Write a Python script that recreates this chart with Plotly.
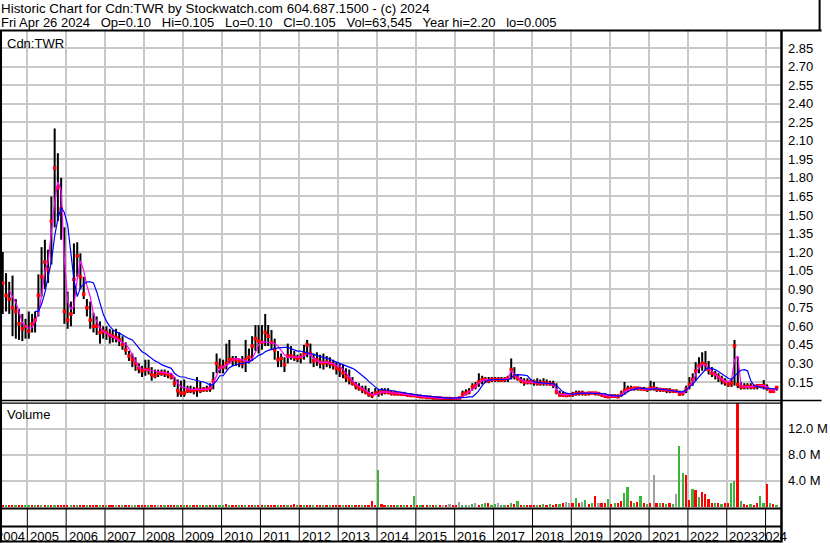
import pandas as pd
import plotly.graph_objects as go

# ---------------- data: monthly bars, May 2004 .. Apr 2024 ----------------
first_month = "2004-05-01"

high = [
    1.20, 1.03, 0.96, 1.01, 0.82, 0.74, 0.70, 0.66,                              # 2004 May-Dec
    0.72, 0.70, 0.72, 1.02, 1.24, 1.30, 1.22, 1.65, 2.20, 2.00, 1.80, 1.40,      # 2005
    0.88, 0.80, 1.27, 1.28, 1.19, 1.00, 0.82, 0.80, 0.71, 0.68, 0.64, 0.60,      # 2006
    0.60, 0.58, 0.57, 0.58, 0.55, 0.52, 0.47, 0.40, 0.38, 0.35, 0.30, 0.28,      # 2007
    0.33, 0.33, 0.27, 0.25, 0.25, 0.25, 0.25, 0.24, 0.22, 0.19, 0.17, 0.16,      # 2008
    0.17, 0.12, 0.12, 0.11, 0.19, 0.15, 0.11, 0.12, 0.14, 0.23, 0.38, 0.34,      # 2009
    0.33, 0.46, 0.49, 0.36, 0.36, 0.34, 0.36, 0.49, 0.42, 0.52, 0.61, 0.61,      # 2010
    0.61, 0.70, 0.61, 0.57, 0.50, 0.40, 0.38, 0.35, 0.46, 0.44, 0.40, 0.37,      # 2011
    0.38, 0.45, 0.49, 0.46, 0.38, 0.39, 0.37, 0.38, 0.36, 0.35, 0.33, 0.31,      # 2012
    0.30, 0.29, 0.26, 0.25, 0.19, 0.15, 0.14, 0.12, 0.12, 0.10, 0.07, 0.10,      # 2013
    0.09, 0.10, 0.10, 0.10, 0.08, 0.08, 0.07, 0.07, 0.07, 0.06, 0.06, 0.05,      # 2014
    0.05, 0.05, 0.04, 0.04, 0.04, 0.035, 0.035, 0.03, 0.03, 0.03, 0.03, 0.025,   # 2015
    0.02, 0.03, 0.08, 0.09, 0.10, 0.14, 0.15, 0.22, 0.20, 0.19, 0.19, 0.19,      # 2016
    0.19, 0.19, 0.19, 0.19, 0.20, 0.34, 0.27, 0.21, 0.19, 0.18, 0.18, 0.17,      # 2017
    0.17, 0.18, 0.17, 0.18, 0.17, 0.16, 0.16, 0.14, 0.08, 0.07, 0.06, 0.06,      # 2018
    0.07, 0.08, 0.08, 0.08, 0.07, 0.07, 0.07, 0.07, 0.07, 0.06, 0.05, 0.05,      # 2019
    0.05, 0.05, 0.05, 0.08, 0.15, 0.12, 0.12, 0.11, 0.11, 0.11, 0.11, 0.10,      # 2020
    0.16, 0.15, 0.11, 0.10, 0.10, 0.10, 0.10, 0.09, 0.09, 0.08, 0.08, 0.12,      # 2021
    0.19, 0.22, 0.31, 0.35, 0.39, 0.40, 0.32, 0.27, 0.24, 0.22, 0.20, 0.18,      # 2022
    0.16, 0.17, 0.49, 0.35, 0.15, 0.14, 0.14, 0.14, 0.13, 0.13, 0.13, 0.165,     # 2023
    0.13, 0.10, 0.09, 0.11,                                                      # 2024 Jan-Apr
]

low = [
    0.70, 0.72, 0.70, 0.52, 0.50, 0.49, 0.48, 0.50,
    0.50, 0.55, 0.55, 0.68, 0.84, 0.90, 0.95, 1.10, 1.40, 1.45, 1.30, 0.62,
    0.58, 0.60, 0.70, 1.00, 0.90, 0.82, 0.68, 0.58, 0.55, 0.53, 0.46, 0.50,
    0.49, 0.46, 0.47, 0.47, 0.44, 0.41, 0.37, 0.32, 0.27, 0.24, 0.22, 0.19,
    0.20, 0.21, 0.16, 0.18, 0.19, 0.20, 0.19, 0.18, 0.17, 0.11, 0.03, 0.03,
    0.03, 0.06, 0.06, 0.05, 0.03, 0.06, 0.07, 0.07, 0.07, 0.09, 0.22, 0.22,
    0.22, 0.25, 0.30, 0.28, 0.28, 0.27, 0.26, 0.23, 0.30, 0.32, 0.40, 0.38,
    0.41, 0.44, 0.44, 0.41, 0.33, 0.27, 0.27, 0.23, 0.30, 0.33, 0.32, 0.31,
    0.30, 0.33, 0.35, 0.30, 0.27, 0.28, 0.26, 0.25, 0.27, 0.26, 0.25, 0.21,
    0.19, 0.18, 0.15, 0.13, 0.12, 0.09, 0.08, 0.06, 0.05, 0.03, 0.02, 0.05,
    0.03, 0.04, 0.05, 0.05, 0.04, 0.04, 0.04, 0.04, 0.04, 0.03, 0.03, 0.03,
    0.025, 0.02, 0.02, 0.02, 0.015, 0.015, 0.015, 0.01, 0.01, 0.01, 0.01, 0.005,
    0.005, 0.01, 0.02, 0.04, 0.05, 0.08, 0.09, 0.11, 0.13, 0.14, 0.14, 0.15,
    0.15, 0.15, 0.15, 0.15, 0.15, 0.17, 0.17, 0.16, 0.14, 0.12, 0.13, 0.13,
    0.12, 0.12, 0.12, 0.12, 0.12, 0.12, 0.10, 0.05, 0.03, 0.03, 0.03, 0.03,
    0.03, 0.04, 0.04, 0.04, 0.04, 0.04, 0.05, 0.04, 0.04, 0.03, 0.02, 0.02,
    0.02, 0.02, 0.02, 0.03, 0.05, 0.07, 0.08, 0.08, 0.08, 0.08, 0.08, 0.07,
    0.08, 0.08, 0.07, 0.07, 0.07, 0.06, 0.06, 0.06, 0.06, 0.04, 0.04, 0.06,
    0.09, 0.12, 0.16, 0.22, 0.24, 0.24, 0.21, 0.19, 0.17, 0.15, 0.13, 0.12,
    0.11, 0.11, 0.12, 0.10, 0.09, 0.09, 0.09, 0.09, 0.09, 0.09, 0.10, 0.09,
    0.08, 0.06, 0.06, 0.08,
]

close = [
    0.95, 0.85, 0.82, 0.75, 0.72, 0.62, 0.58, 0.60,
    0.56, 0.62, 0.65, 0.85, 1.00, 1.12, 1.06, 1.45, 1.88, 1.72, 1.55, 0.72,
    0.65, 0.70, 0.98, 1.17, 1.00, 0.86, 0.75, 0.65, 0.60, 0.60, 0.55, 0.56,
    0.55, 0.53, 0.52, 0.51, 0.49, 0.45, 0.41, 0.36, 0.33, 0.30, 0.26, 0.24,
    0.25, 0.25, 0.21, 0.20, 0.22, 0.22, 0.22, 0.21, 0.19, 0.14, 0.08, 0.06,
    0.06, 0.08, 0.08, 0.08, 0.09, 0.08, 0.09, 0.09, 0.10, 0.16, 0.30, 0.27,
    0.27, 0.30, 0.33, 0.33, 0.33, 0.32, 0.30, 0.33, 0.35, 0.44, 0.50, 0.48,
    0.47, 0.55, 0.52, 0.47, 0.41, 0.33, 0.34, 0.29, 0.36, 0.36, 0.35, 0.34,
    0.35, 0.38, 0.45, 0.38, 0.32, 0.33, 0.31, 0.30, 0.31, 0.30, 0.29, 0.26,
    0.25, 0.22, 0.19, 0.17, 0.14, 0.12, 0.10, 0.09, 0.07, 0.05, 0.04, 0.06,
    0.06, 0.07, 0.07, 0.065, 0.06, 0.055, 0.055, 0.05, 0.05, 0.045, 0.04, 0.04,
    0.035, 0.03, 0.03, 0.025, 0.025, 0.02, 0.02, 0.02, 0.015, 0.015, 0.015, 0.01,
    0.01, 0.02, 0.05, 0.06, 0.07, 0.11, 0.12, 0.15, 0.17, 0.17, 0.16, 0.17,
    0.17, 0.17, 0.165, 0.17, 0.18, 0.25, 0.20, 0.18, 0.16, 0.15, 0.15, 0.15,
    0.15, 0.14, 0.14, 0.145, 0.14, 0.135, 0.13, 0.07, 0.045, 0.045, 0.04, 0.045,
    0.05, 0.055, 0.06, 0.06, 0.055, 0.06, 0.06, 0.06, 0.055, 0.045, 0.035, 0.03,
    0.035, 0.035, 0.03, 0.05, 0.08, 0.09, 0.095, 0.10, 0.10, 0.095, 0.09, 0.09,
    0.10, 0.10, 0.09, 0.09, 0.085, 0.085, 0.08, 0.075, 0.075, 0.05, 0.06, 0.09,
    0.13, 0.17, 0.24, 0.28, 0.30, 0.29, 0.25, 0.22, 0.21, 0.19, 0.17, 0.15,
    0.13, 0.14, 0.44, 0.13, 0.11, 0.11, 0.115, 0.11, 0.11, 0.12, 0.12, 0.12,
    0.10, 0.075, 0.075, 0.105,
]

ma_short = [  # magenta moving average
    None, None, 0.89, 0.84, 0.79, 0.72, 0.63, 0.60,
    0.585, 0.59, 0.64, 0.70, 0.85, 1.05, 1.12, 1.35, 1.60, 1.77, 1.70, 1.15,
    0.80, 0.74, 0.76, 0.98, 1.13, 1.05, 0.93, 0.84, 0.70, 0.64, 0.59, 0.56,
    0.545, 0.53, 0.515, 0.50, 0.49, 0.475, 0.455, 0.42, 0.37, 0.32, 0.27, 0.255,
    0.25, 0.245, 0.24, 0.235, 0.23, 0.225, 0.225, 0.22, 0.22, 0.19, 0.14, 0.11,
    0.105, 0.095, 0.09, 0.09, 0.09, 0.085, 0.085, 0.09, 0.10, 0.14, 0.20, 0.26,
    0.27, 0.285, 0.30, 0.33, 0.34, 0.335, 0.33, 0.32, 0.31, 0.34, 0.39, 0.45,
    0.475, 0.475, 0.47, 0.465, 0.46, 0.44, 0.41, 0.37, 0.35, 0.35, 0.35, 0.355,
    0.35, 0.36, 0.38, 0.37, 0.34, 0.32, 0.31, 0.31, 0.31, 0.30, 0.30, 0.28,
    0.28, 0.25, 0.22, 0.19, 0.16, 0.13, 0.115, 0.095, 0.08, 0.065, 0.05, 0.045,
    0.06, 0.07, 0.07, 0.07, 0.065, 0.06, 0.06, 0.055, 0.05, 0.05, 0.045, 0.04,
    0.04, 0.035, 0.03, 0.03, 0.025, 0.025, 0.02, 0.02, 0.02, 0.015, 0.015, 0.015,
    0.015, 0.015, 0.03, 0.05, 0.065, 0.09, 0.11, 0.14, 0.16, 0.17, 0.165, 0.165,
    0.17, 0.17, 0.17, 0.17, 0.175, 0.24, 0.21, 0.185, 0.17, 0.155, 0.15, 0.15,
    0.15, 0.145, 0.14, 0.14, 0.14, 0.135, 0.13, 0.09, 0.05, 0.045, 0.045, 0.045,
    0.05, 0.055, 0.06, 0.06, 0.06, 0.06, 0.06, 0.06, 0.06, 0.05, 0.04, 0.035,
    0.04, 0.035, 0.035, 0.045, 0.07, 0.085, 0.09, 0.095, 0.10, 0.095, 0.09, 0.09,
    0.095, 0.10, 0.095, 0.09, 0.085, 0.085, 0.08, 0.08, 0.075, 0.065, 0.06, 0.08,
    0.11, 0.15, 0.21, 0.27, 0.29, 0.29, 0.26, 0.24, 0.21, 0.19, 0.175, 0.155,
    0.15, 0.17, 0.33, 0.36, 0.12, 0.11, 0.11, 0.11, 0.11, 0.115, 0.12, 0.12,
    0.11, 0.09, 0.08, 0.095,
]

ma_long = [  # blue moving average
    None, None, None, None, None, None, None, None,
    None, None, 0.72, 0.72, 0.78, 0.87, 1.00, 1.12, 1.33, 1.47, 1.56, 1.52,
    1.42, 1.19, 0.98, 0.84, 0.91, 0.94, 0.96, 0.96, 0.95, 0.88, 0.78, 0.70,
    0.64, 0.60, 0.575, 0.555, 0.545, 0.53, 0.51, 0.50, 0.49, 0.46, 0.42, 0.395,
    0.38, 0.36, 0.34, 0.32, 0.31, 0.29, 0.28, 0.27, 0.26, 0.22, 0.20, 0.19,
    0.19, 0.18, 0.175, 0.17, 0.165, 0.16, 0.15, 0.14, 0.125, 0.13, 0.16, 0.20,
    0.20, 0.235, 0.265, 0.28, 0.29, 0.295, 0.30, 0.305, 0.31, 0.325, 0.345, 0.365,
    0.375, 0.395, 0.405, 0.415, 0.42, 0.425, 0.43, 0.43, 0.43, 0.42, 0.41, 0.40,
    0.40, 0.39, 0.385, 0.38, 0.375, 0.365, 0.355, 0.35, 0.345, 0.335, 0.32, 0.31,
    0.305, 0.29, 0.28, 0.27, 0.26, 0.245, 0.225, 0.20, 0.18, 0.155, 0.13, 0.11,
    0.09, 0.085, 0.085, 0.085, 0.08, 0.075, 0.07, 0.07, 0.065, 0.06, 0.055, 0.05,
    0.045, 0.04, 0.04, 0.035, 0.035, 0.03, 0.03, 0.025, 0.025, 0.02, 0.02, 0.02,
    0.02, 0.02, 0.02, 0.025, 0.03, 0.03, 0.05, 0.08, 0.12, 0.15, 0.165, 0.17,
    0.17, 0.17, 0.17, 0.17, 0.17, 0.18, 0.205, 0.21, 0.21, 0.205, 0.20, 0.17,
    0.15, 0.145, 0.14, 0.14, 0.14, 0.14, 0.135, 0.12, 0.09, 0.07, 0.06, 0.055,
    0.05, 0.055, 0.06, 0.06, 0.06, 0.06, 0.06, 0.06, 0.06, 0.06, 0.055, 0.045,
    0.04, 0.04, 0.035, 0.04, 0.05, 0.07, 0.085, 0.09, 0.10, 0.10, 0.095, 0.09,
    0.09, 0.095, 0.095, 0.09, 0.09, 0.085, 0.08, 0.08, 0.075, 0.07, 0.07, 0.085,
    0.11, 0.13, 0.16, 0.19, 0.22, 0.25, 0.265, 0.26, 0.25, 0.235, 0.215, 0.195,
    0.18, 0.17, 0.20, 0.225, 0.245, 0.25, 0.24, 0.16, 0.12, 0.11, 0.105, 0.10,
    0.10, 0.10, 0.095, 0.095,
]

volume_millions = [
    0.10, 0.12, 0.08, 0.10, 0.10, 0.12, 0.10, 0.10,
    0.12, 0.10, 0.10, 0.12, 0.12, 0.10, 0.10, 0.15, 0.15, 0.12, 0.12, 0.10,
    0.12, 0.10, 0.12, 0.10, 0.08, 0.10, 0.10, 0.10, 0.10, 0.10, 0.08, 0.10,
    0.10, 0.10, 0.10, 0.15, 0.10, 0.10, 0.10, 0.12, 0.15, 0.10, 0.10, 0.10,
    0.10, 0.10, 0.10, 0.10, 0.15, 0.10, 0.10, 0.10, 0.10, 0.12, 0.10, 0.10,
    0.10, 0.10, 0.10, 0.10, 0.12, 0.15, 0.10, 0.10, 0.10, 0.12, 0.10, 0.10,
    0.12, 0.45, 0.10, 0.10, 0.10, 0.10, 0.12, 0.10, 0.10, 0.15, 0.10, 0.10,
    0.12, 0.15, 0.10, 0.10, 0.10, 0.10, 0.12, 0.10, 0.10, 0.10, 0.35, 0.10,
    0.10, 0.15, 0.10, 0.10, 0.10, 0.15, 0.10, 0.10, 0.12, 0.30, 0.10, 0.10,
    0.15, 0.20, 0.10, 0.10, 0.10, 0.12, 0.10, 0.12, 0.10, 0.10, 0.80, 0.30,
    5.70, 0.35, 0.20, 0.15, 0.12, 0.10, 0.12, 0.10, 0.12, 0.10, 0.15, 1.55,
    0.15, 0.12, 0.10, 0.15, 0.10, 0.12, 0.10, 0.10, 0.15, 0.20, 0.35, 0.15,
    0.15, 0.65, 0.25, 0.30, 0.30, 0.40, 0.50, 0.30, 0.35, 0.50, 0.55, 0.30,
    0.40, 0.50, 0.30, 0.30, 0.25, 0.50, 0.40, 0.80, 0.25, 0.20, 0.30, 0.20,
    0.30, 0.20, 0.30, 0.45, 0.20, 0.40, 0.30, 0.35, 0.40, 0.60, 0.77, 0.60,
    0.50, 1.30, 0.60, 0.70, 1.00, 0.40, 0.50, 1.70, 0.60, 0.50, 0.50, 1.10,
    0.40, 0.50, 0.60, 0.90, 2.10, 3.00, 0.80, 0.60, 0.70, 1.70, 0.50, 0.40,
    0.60, 4.80, 0.50, 0.60, 0.50, 0.40, 0.60, 0.40, 2.00, 9.30, 5.20, 4.80,
    1.00, 2.70, 2.60, 1.50, 2.20, 2.00, 1.20, 0.60, 0.50, 0.50, 0.40, 0.50,
    0.60, 3.70, 3.90, 16.50, 0.80, 0.40, 0.30, 0.40, 0.30, 0.50, 1.65, 0.50,
    3.50, 0.50, 0.40, 0.30,
]

# g = up (green), r = down (red), n = unchanged (grey)
volume_direction = (
    "rgrrgrrg" + "grgrgrgrgrrr" + "rgrgrrgrrrgr" + "grrnrgrrngrr" + "rgrrnrgrrrgr"
    + "grgrrgrgrgrg" + "grgrrgrgrrgr" + "rgrrrgrrgrrg" + "rgrrgrrgrgrr" + "rgrrgrrgrrrr"
    + "grrgrrgrgrrg" + "rgrrgrgrnrnr" + "rnggngnrggrg" + "gnggrgrgrgrr" + "rgrgrgrrgrnn"
    + "rgrngrgrnrrg" + "rgrrggrgrgrg" + "rnrgrgrgnggr" + "rgrgrrrrgrgr" + "rggrgrrgrrgg"
    + "rgrg"
)

price_tick_labels = ["0.15", "0.30", "0.45", "0.60", "0.75", "0.90", "1.05", "1.20", "1.35",
                     "1.50", "1.65", "1.80", "1.95", "2.10", "2.25", "2.40", "2.55", "2.70", "2.85"]
volume_tick_labels = ["4.0 M", "8.0 M", "12.0 M"]
volume_tick_values = [4e6, 8e6, 12e6]
year_labels = ["2004", "2005", "2006", "2007", "2008", "2009", "2010", "2011", "2012", "2013",
               "2014", "2015", "2016", "2017", "2018", "2019", "2020", "2021", "2022", "2023", "2024"]

header_line1 = "Historic Chart for Cdn:TWR by Stockwatch.com 604.687.1500 - (c) 2024"
header_line2 = ("Fri Apr 26 2024   Op=0.10   Hi=0.105   Lo=0.10   Cl=0.105   "
                "Vol=63,545   Year hi=2.20   lo=0.005")

for name, arr in [("high", high), ("low", low), ("close", close), ("ma_short", ma_short),
                  ("ma_long", ma_long), ("volume", volume_millions), ("dir", volume_direction)]:
    if len(arr) != 240:
        raise ValueError(f"{name} has {len(arr)} entries")

dates = pd.date_range(first_month, periods=len(close), freq="MS") + pd.Timedelta(days=14)

# ---------------- layout helpers ----------------
W, H = 830, 543
ML, MR, MT, MB = 2, 41, 31, 35
PW, PH = W - ML - MR, H - MT - MB


def px_x(X):
    return (X - ML) / PW


def px_y(Y):
    return (H - MB - Y) / PH


GRID = "#c8c8c8"
GREEN, RED, GREY = "#3cb43c", "#ff0000", "#a0a0a0"
FAMILY = "Arial, 'Liberation Sans', sans-serif"
FONT = dict(family=FAMILY, size=13, color="#000000")
x_range = ["2004-05-08", "2024-05-25"]

fig = go.Figure()

# high-low bars
bar_x, bar_y = [], []
for d, h, l in zip(dates, high, low):
    bar_x += [d, d, None]
    bar_y += [l, h, None]
fig.add_trace(go.Scatter(x=bar_x, y=bar_y, mode="lines", line=dict(color="black", width=2),
                         xaxis="x", yaxis="y", hoverinfo="skip"))
# closes
fig.add_trace(go.Scatter(x=dates, y=close, mode="markers",
                         marker=dict(symbol="square", size=3.5, color=RED, line=dict(width=0)),
                         xaxis="x", yaxis="y"))
# moving averages
fig.add_trace(go.Scatter(x=dates, y=ma_short, mode="lines", line=dict(color="#ff00ff", width=1.2),
                         xaxis="x", yaxis="y"))
fig.add_trace(go.Scatter(x=dates, y=ma_long, mode="lines", line=dict(color="#0000ff", width=1.2),
                         xaxis="x", yaxis="y"))
# volume
cmap = {"g": GREEN, "r": RED, "n": GREY}
fig.add_trace(go.Bar(x=dates, y=[v * 1e6 for v in volume_millions], width=16 * 86400000,
                     marker=dict(color=[cmap[c] for c in volume_direction], line=dict(width=0)),
                     xaxis="x2", yaxis="y2"))

common_x = dict(type="date", range=x_range, showticklabels=False, ticks="", showgrid=True,
                gridcolor=GRID, gridwidth=2, tick0="2005-01-01", dtick="M12",
                zeroline=False, showline=False, fixedrange=True)

fig.update_layout(
    width=W, height=H, margin=dict(l=ML, r=MR, t=MT, b=MB, pad=0),
    paper_bgcolor="white", plot_bgcolor="white", showlegend=False, bargap=0,
    font=FONT,
    xaxis=dict(domain=[0, 1], anchor="y", **common_x),
    xaxis2=dict(domain=[0, 1], anchor="y2", **common_x),
    yaxis=dict(domain=[px_y(401), 1], anchor="x", side="right", range=[-0.004, 2.988],
               tickmode="array", tickvals=[float(t) for t in price_tick_labels],
               ticktext=price_tick_labels, ticks="", showgrid=True, gridcolor=GRID, gridwidth=2,
               zeroline=False, showline=False, tickfont=FONT, fixedrange=True,
               ticklabelstandoff=6),
    yaxis2=dict(domain=[0, px_y(403)], anchor="x2", side="right", range=[-0.23e6, 16.0e6],
                tickmode="array", tickvals=volume_tick_values, ticktext=volume_tick_labels,
                ticks="", showgrid=True, gridcolor=GRID, gridwidth=2,
                zeroline=False, showline=False, tickfont=FONT, fixedrange=True,
                ticklabelstandoff=6),
)

shapes = []


def hline(Y, X0, X1, w=2):
    shapes.append(dict(type="line", xref="paper", yref="paper", x0=px_x(X0), x1=px_x(X1),
                       y0=px_y(Y), y1=px_y(Y), line=dict(color="black", width=w)))


def vline(X, Y0, Y1, w=2):
    shapes.append(dict(type="line", xref="paper", yref="paper", x0=px_x(X), x1=px_x(X),
                       y0=px_y(Y0), y1=px_y(Y1), line=dict(color="black", width=w)))


hline(30.5, 0, 830)          # header bottom
vline(828, 0, 31)            # header right border
vline(1, 30, 542.5)          # left border
vline(789.5, 30, 542.5, 2.5)  # plot right border
hline(400.5, 0, 830, 1.5)    # price/volume divider
hline(403.2, 0, 789, 1.2)
hline(508.5, 0, 789)         # volume bottom
hline(526.5, 0, 789)         # row divider
hline(541.5, 0, 789)         # bottom

for y in year_labels[1:]:
    shapes.append(dict(type="line", xref="x", yref="paper", x0=f"{y}-01-01", x1=f"{y}-01-01",
                       y0=px_y(509), y1=px_y(541), line=dict(color="black", width=1)))

annotations = [
    dict(text=header_line1, xref="paper", yref="paper", x=px_x(-1), y=px_y(8.7),
         xanchor="left", yanchor="middle", showarrow=False,
         font=dict(family=FAMILY, size=13.4, color="#000000")),
    dict(text=header_line2, xref="paper", yref="paper", x=px_x(-1), y=px_y(23),
         xanchor="left", yanchor="middle", showarrow=False, font=FONT),
    dict(text="Cdn:TWR", xref="paper", yref="paper", x=px_x(5), y=px_y(43.5),
         xanchor="left", yanchor="middle", showarrow=False, font=FONT),
    dict(text="Volume", xref="paper", yref="paper", x=px_x(5), y=px_y(414.5),
         xanchor="left", yanchor="middle", showarrow=False, font=FONT),
    dict(text=year_labels[0], xref="paper", yref="paper", x=px_x(27), y=px_y(536),
         xanchor="right", yanchor="middle", showarrow=False, font=FONT),
    dict(text=year_labels[-1], xref="paper", yref="paper", x=px_x(764), y=px_y(536),
         xanchor="left", yanchor="middle", showarrow=False, font=FONT),
]
for y in year_labels[1:-1]:
    annotations.append(dict(text=y, xref="x", yref="paper", x=f"{y}-01-01", y=px_y(536),
                            xanchor="left", yanchor="middle", xshift=0.5, showarrow=False,
                            font=FONT))

fig.update_layout(shapes=shapes, annotations=annotations)
fig.write_html("out.html", config={"displayModeBar": False},
               post_script="document.body.style.margin='0';document.body.style.overflow='hidden';")
